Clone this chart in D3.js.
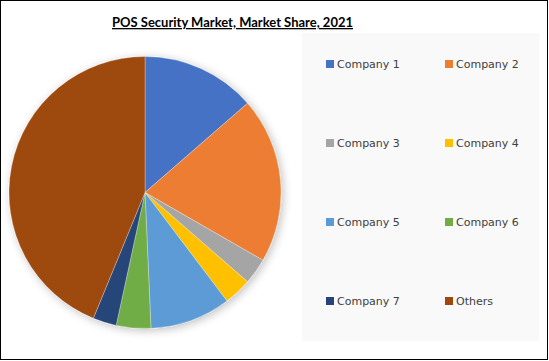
<!DOCTYPE html>
<html><head><meta charset="utf-8">
<script src="https://cdn.jsdelivr.net/npm/d3@7/dist/d3.min.js"></script>
<style>body{margin:0;background:#fff}svg{display:block}</style>
</head><body>
<script>
const categories = ["Company 1","Company 2","Company 3","Company 4","Company 5","Company 6","Company 7","Others"];
const shares = [13.6, 19.7, 3.1, 3.3, 9.6, 4.1, 2.8, 43.8];
const colors = ["#4472C4","#ED7D31","#A5A5A5","#FFC000","#5B9BD5","#70AD47","#264478","#9E480E"];
const title = "POS Security Market, Market Share, 2021";

const W = 549, H = 361;
const svg = d3.select("body").append("svg").attr("width", W).attr("height", H);
const defs = svg.append("defs");
const f = defs.append("filter").attr("id","sh").attr("x","-20%").attr("y","-20%").attr("width","140%").attr("height","140%");
f.append("feGaussianBlur").attr("in","SourceAlpha").attr("stdDeviation",5).attr("result","b");
f.append("feOffset").attr("in","b").attr("dx",2).attr("dy",2).attr("result","o");
f.append("feComponentTransfer").attr("in","o").attr("result","t").append("feFuncA").attr("type","linear").attr("slope",0.25);
const m = f.append("feMerge"); m.append("feMergeNode").attr("in","t"); m.append("feMergeNode").attr("in","SourceGraphic");

svg.append("rect").attr("x",0.5).attr("y",0.5).attr("width",W-2).attr("height",H-2)
  .attr("fill","#fff").attr("stroke","#000").attr("stroke-width",1);

// legend background
svg.append("rect").attr("x",302).attr("y",33).attr("width",237).attr("height",308).attr("fill","#f9f9f9");

svg.append("text").attr("x",232.5).attr("y",27).attr("text-anchor","middle")
  .attr("font-family","Lato, 'Open Sans', sans-serif").attr("font-weight","bold").attr("font-size",13)
  .attr("textLength",241).attr("lengthAdjust","spacingAndGlyphs")
  .attr("text-decoration","underline").attr("fill","#000").text(title);

const color = d3.scaleOrdinal().domain(categories).range(colors);
const pie = d3.pie().sort(null).value(d => d.v);
const arcs = pie(categories.map((c,i)=>({c, v: shares[i]})));
const arc = d3.arc().innerRadius(0).outerRadius(136);
const g = svg.append("g").attr("transform","translate(145,192.5)").attr("filter","url(#sh)");
g.selectAll("path").data(arcs).join("path")
  .attr("d", arc).attr("fill", d => color(d.data.c))
  .attr("stroke","#fff").attr("stroke-width",0.5).attr("stroke-opacity",0.6);

// legend
const colX = d3.scalePoint().domain([0,1]).range([326,445]);
const rowY = d3.scalePoint().domain([0,1,2,3]).range([64,301]);
const lg = svg.append("g");
categories.forEach((c,i) => {
  const x = colX(i%2), y = rowY(Math.floor(i/2));
  lg.append("rect").attr("x",x).attr("y",y-4).attr("width",8).attr("height",8).attr("fill",color(c));
  lg.append("text").attr("x",x+11).attr("y",y+4).attr("font-family","'DejaVu Sans', Verdana, sans-serif")
    .attr("font-size",11).attr("fill","#404040").text(c);
});
</script>
</body></html>
